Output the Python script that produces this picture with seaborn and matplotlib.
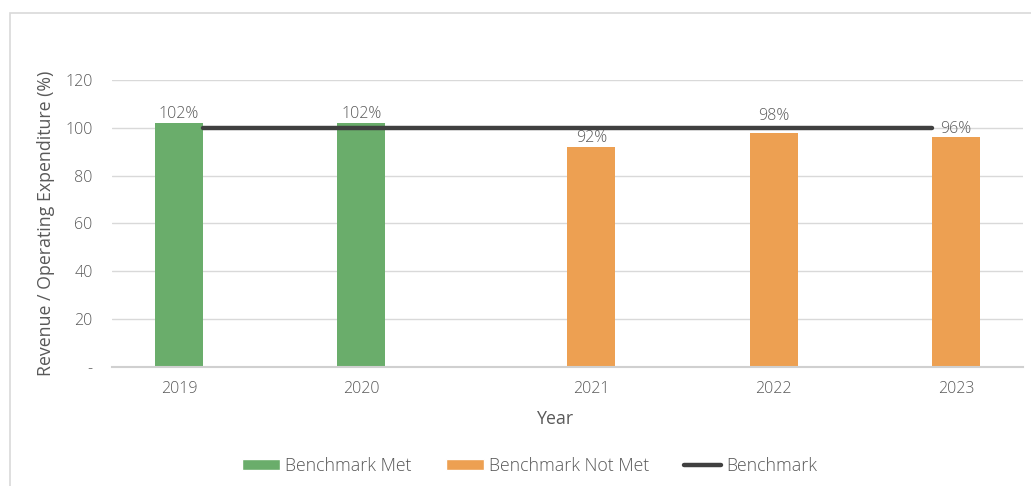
import numpy as np
import pandas as pd
import matplotlib
matplotlib.use("Agg")
import matplotlib.pyplot as plt
from matplotlib.patches import Patch, Rectangle
from matplotlib.lines import Line2D
from matplotlib.ticker import FuncFormatter
import seaborn as sns

# Revenue as a share of operating expenditure, by year
years = ["2019", "2020", "2021", "2022", "2023"]
ratio = [102, 102, 92, 98, 96]
status = ["Benchmark Met", "Benchmark Met", "Benchmark Not Met",
          "Benchmark Not Met", "Benchmark Not Met"]
benchmark = [100, 100, 100, 100, 100]
status_order = ["Benchmark Met", "Benchmark Not Met"]

GREEN = "#6aad6b"
ORANGE = "#eda052"
LINE = "#404040"
TEXT = "#595959"
GRID = "#d9d9d9"
FS_NUM = 11.5   # tick and value labels
FS_TXT = 12.75  # axis titles and legend

df = pd.DataFrame({"Year": years, "Ratio": ratio, "Status": status})

sns.set_theme(style="white")
plt.rcParams["font.family"] = ["Open Sans", "DejaVu Sans"]
plt.rcParams["font.weight"] = "light"

fig = plt.figure(figsize=(10.31, 4.86), dpi=100)
ax = fig.add_axes([0.1086, 0.2449, 0.8836, 0.5905])

# outer chart frame
fig.patches.append(Rectangle((10 / 1031, -0.05), 1.2, 1 - 13 / 486 + 0.05,
                             transform=fig.transFigure, fill=False,
                             edgecolor=GRID, linewidth=1.2, clip_on=False))

sns.barplot(data=df, x="Year", y="Ratio", hue="Status", order=years,
            hue_order=status_order, palette=[GREEN, ORANGE], dodge=True,
            width=0.527, saturation=1, errorbar=None, ax=ax, legend=False,
            linewidth=0)

line_x = np.arange(len(years))
sns.lineplot(x=line_x, y=benchmark, color=LINE, linewidth=3.2,
             solid_capstyle="round", ax=ax, zorder=4)

# value labels; a label that would collide with the benchmark line goes above it
bars = sorted([p for p in ax.patches if p.get_height() > 0], key=lambda p: p.get_x())
for bar, val, bm in zip(bars, ratio, benchmark):
    cx = bar.get_x() + bar.get_width() / 2
    y = val
    if val < bm and bm - val < 4 and line_x[0] <= cx <= line_x[-1]:
        y = bm
    ax.annotate(f"{val:.0f}%", (cx, y), xytext=(0, 0.5 if y == val else 2.5),
                textcoords="offset points", ha="center", va="bottom",
                color=TEXT, fontsize=FS_NUM)

ax.set_xlim(-0.5, len(years) - 0.5)
ax.set_ylim(0, 120)
ax.set_yticks([0, 20, 40, 60, 80, 100, 120])
ax.yaxis.set_major_formatter(FuncFormatter(lambda v, p: "-" if v == 0 else f"{v:.0f}"))

# year labels sit under the drawn bars
ax.set_xticks([p.get_x() + p.get_width() / 2 for p in bars])
ax.set_xticklabels(years)

ax.grid(axis="y", color=GRID, linewidth=1)
ax.set_axisbelow(True)
for side in ["top", "right", "left"]:
    ax.spines[side].set_visible(False)
ax.spines["bottom"].set_color("#d0d0d0")
ax.spines["bottom"].set_linewidth(1.5)
ax.tick_params(axis="both", length=0, labelsize=FS_NUM, labelcolor=TEXT)
ax.tick_params(axis="y", pad=14)
ax.tick_params(axis="x", pad=10)

ax.set_xlabel("Year", fontsize=FS_TXT, color=TEXT)
ax.set_ylabel("Revenue / Operating Expenditure (%)", fontsize=FS_TXT, color=TEXT)
ax.xaxis.set_label_coords(0.487, -0.150)
ax.yaxis.set_label_coords(-0.062, 0.5)

handles = [Patch(facecolor=GREEN, label="Benchmark Met"),
           Patch(facecolor=ORANGE, label="Benchmark Not Met"),
           Line2D([0], [0], color=LINE, linewidth=3.2, solid_capstyle="round",
                  label="Benchmark")]
fig.legend(handles=handles, loc="center", bbox_to_anchor=(0.514, 0.041), ncol=3,
           frameon=False, fontsize=FS_TXT, labelcolor=TEXT, handlelength=2.1,
           handleheight=0.6, handletextpad=0.28, columnspacing=2.0)

fig.savefig("out.png", dpi=100)
